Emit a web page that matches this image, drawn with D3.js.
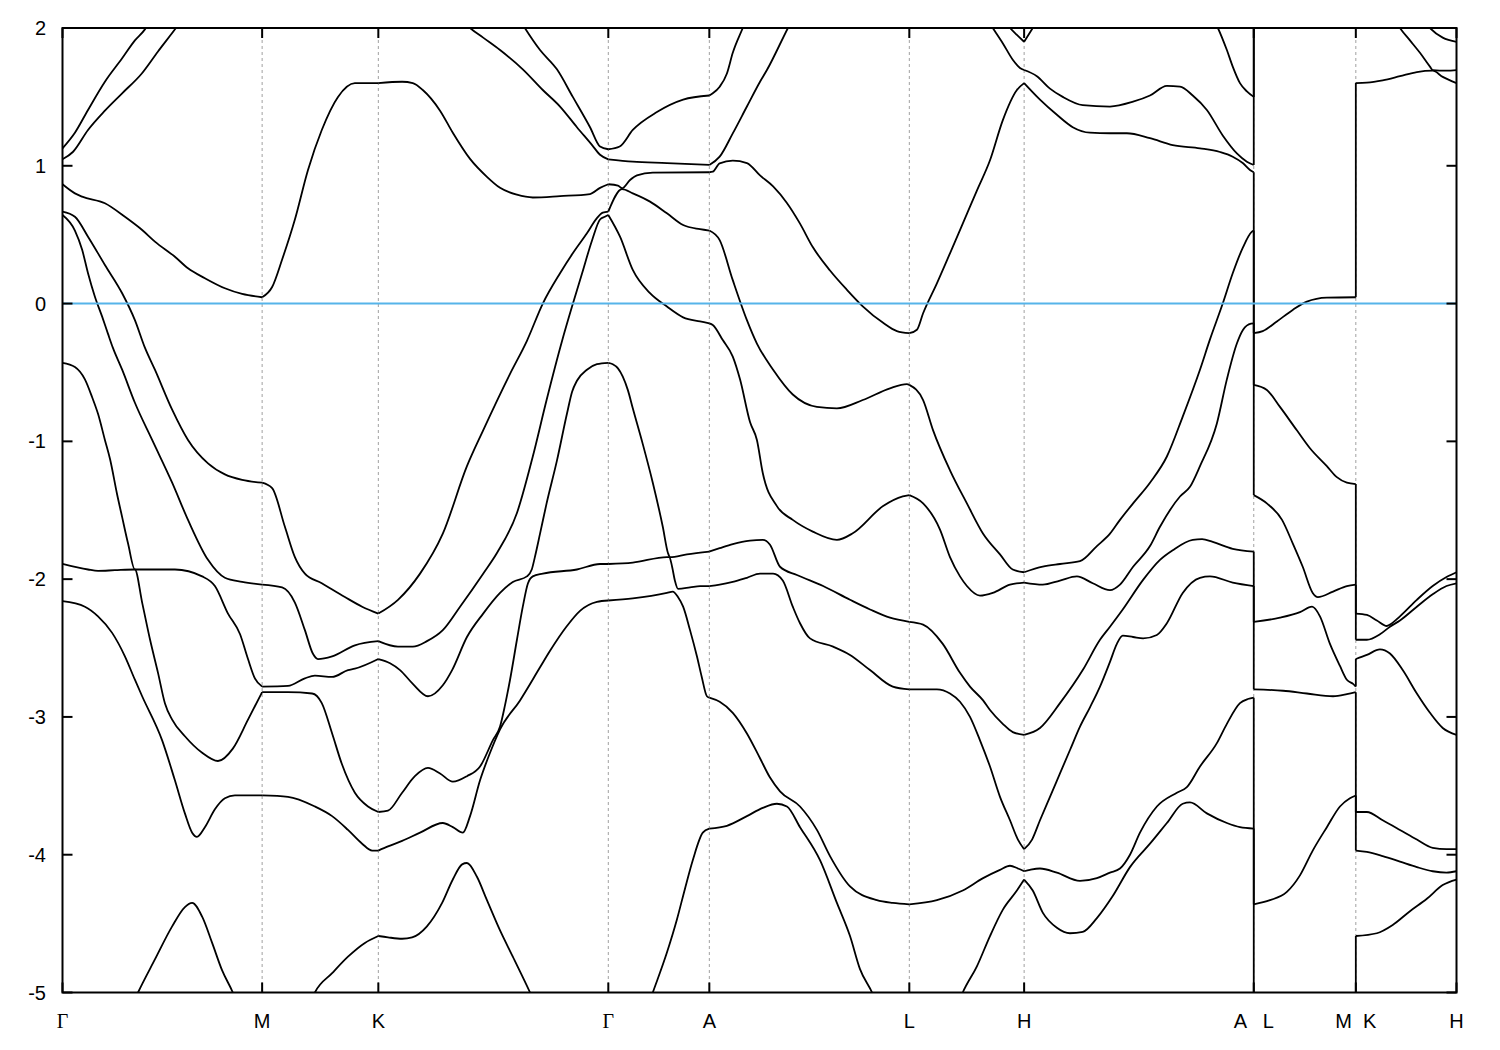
<!DOCTYPE html>
<html><head><meta charset="utf-8">
<script src="https://cdn.jsdelivr.net/npm/d3@7"></script>
<style>
body{margin:0;background:#fff;}
text{font-family:"Liberation Sans",Arial,Helvetica,sans-serif;}
</style>
</head><body>
<svg id="chart" width="1500" height="1050"></svg>
<script>
// High-symmetry k-points (path length, units of 2π/a)
const kTicks  = [0, 0.579, 0.916, 1.583, 1.876, 2.456, 2.789, 3.455, 3.751, 4.043];
const kLabels = ["Γ","M","K","Γ","A","L","H","A   L","M  K","H"];
const energyTicks = [2,1,0,-1,-2,-3,-4,-5];
const energyTickLabels = ["2","1","0","-1","-2","-3","-4","-5"];
const fermiLevel = 0;

// Bands (k, E in eV); duplicated k marks a path discontinuity (A|L, M|K)
const band0 = [
[0,-5.8],[0.167,-5.3],[0.219,-5.0],[0.268,-4.76],[0.318,-4.52],[0.355,-4.38],[0.376,-4.35],[0.405,-4.45],[0.434,-4.64],[0.463,-4.84],[0.494,-5.0],[0.538,-5.3],
[0.579,-5.6],
[0.689,-5.3],[0.732,-5.0],[0.782,-4.86],[0.828,-4.74],[0.877,-4.64],[0.916,-4.59],
[0.944,-4.60],[0.985,-4.61],[1.014,-4.60],[1.057,-4.52],[1.101,-4.35],[1.132,-4.18],[1.159,-4.07],[1.173,-4.06],[1.202,-4.16],[1.231,-4.33],[1.269,-4.55],[1.306,-4.74],[1.356,-5.0],[1.408,-5.3],[1.583,-5.8],
[1.669,-5.3],[1.712,-5.0],[1.753,-4.71],[1.782,-4.47],[1.805,-4.25],[1.828,-4.04],[1.857,-3.84],[1.876,-3.81],
[1.927,-3.79],[1.985,-3.72],[2.031,-3.66],[2.072,-3.63],[2.101,-3.65],[2.139,-3.80],[2.197,-4.04],[2.246,-4.35],[2.284,-4.59],[2.313,-4.83],[2.348,-5.0],[2.394,-5.3],[2.456,-5.6],
[2.568,-5.3],[2.611,-5.0],[2.652,-4.81],[2.690,-4.59],[2.727,-4.40],[2.768,-4.26],[2.789,-4.18],
[2.814,-4.26],[2.843,-4.42],[2.884,-4.53],[2.922,-4.57],[2.959,-4.56],[3.000,-4.46],[3.046,-4.30],[3.096,-4.09],[3.154,-3.92],[3.203,-3.77],[3.249,-3.63],[3.270,-3.62],[3.319,-3.70],[3.377,-3.77],[3.415,-3.80],[3.455,-3.81],
[3.455,-5.6],[3.751,-5.6],
[3.751,-4.59],[3.812,-4.57],[3.858,-4.51],[3.908,-4.41],[3.957,-4.32],[4.003,-4.22],[4.043,-4.18]
];
const band1 = [
[0,-2.16],[0.065,-2.20],[0.103,-2.27],[0.144,-2.39],[0.181,-2.56],[0.210,-2.73],[0.231,-2.85],[0.289,-3.17],[0.326,-3.46],[0.355,-3.70],[0.376,-3.84],[0.390,-3.87],[0.413,-3.80],[0.442,-3.67],[0.471,-3.59],[0.500,-3.57],[0.579,-3.57],
[0.654,-3.58],[0.732,-3.65],[0.782,-3.72],[0.828,-3.82],[0.869,-3.92],[0.898,-3.97],[0.916,-3.97],
[0.944,-3.94],[0.985,-3.90],[1.037,-3.84],[1.103,-3.77],[1.132,-3.80],[1.161,-3.84],[1.182,-3.72],[1.211,-3.46],[1.240,-3.26],[1.269,-3.09],[1.327,-2.88],[1.385,-2.64],[1.414,-2.52],[1.463,-2.34],[1.501,-2.23],[1.550,-2.165],[1.583,-2.155],
[1.654,-2.14],[1.753,-2.10],[1.770,-2.09],[1.785,-2.13],[1.800,-2.20],[1.820,-2.37],[1.840,-2.56],[1.854,-2.71],[1.869,-2.85],[1.876,-2.86],
[1.906,-2.89],[1.944,-2.97],[1.985,-3.12],[2.023,-3.30],[2.052,-3.44],[2.081,-3.54],[2.139,-3.65],[2.188,-3.82],[2.226,-4.01],[2.284,-4.23],[2.362,-4.33],[2.408,-4.35],[2.456,-4.36],
[2.536,-4.33],[2.611,-4.26],[2.670,-4.17],[2.719,-4.11],[2.748,-4.08],[2.771,-4.10],[2.789,-4.12],
[2.806,-4.11],[2.835,-4.10],[2.884,-4.13],[2.951,-4.19],[3.000,-4.17],[3.038,-4.13],[3.067,-4.10],[3.096,-4.00],[3.125,-3.84],[3.174,-3.65],[3.232,-3.55],[3.261,-3.51],[3.299,-3.36],[3.348,-3.19],[3.377,-3.05],[3.415,-2.90],[3.438,-2.87],[3.455,-2.86],
[3.455,-4.36],[3.502,-4.33],[3.551,-4.27],[3.589,-4.15],[3.626,-3.97],[3.667,-3.80],[3.705,-3.65],[3.734,-3.59],[3.751,-3.57],
[3.751,-3.97],[3.783,-3.98],[3.829,-4.01],[3.879,-4.05],[3.928,-4.09],[3.974,-4.12],[4.014,-4.13],[4.043,-4.12]
];
const band2 = [
[0,-1.89],[0.074,-1.93],[0.103,-1.94],[0.152,-1.935],[0.210,-1.93],[0.231,-2.17],[0.254,-2.44],[0.277,-2.68],[0.297,-2.90],[0.318,-3.02],[0.355,-3.14],[0.405,-3.26],[0.451,-3.32],[0.494,-3.23],[0.538,-3.02],[0.579,-2.82],
[0.654,-2.82],[0.724,-2.83],[0.752,-2.90],[0.782,-3.12],[0.810,-3.34],[0.848,-3.55],[0.886,-3.65],[0.916,-3.69],
[0.944,-3.68],[0.985,-3.55],[1.022,-3.43],[1.060,-3.37],[1.095,-3.41],[1.132,-3.47],[1.173,-3.43],[1.211,-3.36],[1.248,-3.17],[1.269,-3.07],[1.283,-2.92],[1.298,-2.73],[1.318,-2.44],[1.335,-2.20],[1.350,-2.03],[1.364,-1.98],[1.393,-1.96],[1.492,-1.93],[1.559,-1.89],[1.583,-1.89],
[1.654,-1.88],[1.753,-1.84],[1.760,-1.84],[1.768,-1.91],[1.776,-2.01],[1.785,-2.07],[1.820,-2.06],[1.849,-2.05],[1.876,-2.05],
[1.906,-2.04],[1.944,-2.02],[1.985,-1.99],[2.023,-1.96],[2.061,-1.96],[2.089,-2.01],[2.118,-2.20],[2.139,-2.32],[2.168,-2.43],[2.235,-2.49],[2.284,-2.55],[2.342,-2.66],[2.408,-2.78],[2.456,-2.80],
[2.496,-2.80],[2.536,-2.80],[2.574,-2.83],[2.603,-2.89],[2.632,-3.00],[2.661,-3.17],[2.690,-3.36],[2.719,-3.58],[2.748,-3.75],[2.771,-3.89],[2.789,-3.96],
[2.812,-3.89],[2.835,-3.75],[2.864,-3.58],[2.893,-3.41],[2.922,-3.24],[2.951,-3.07],[2.980,-2.93],[3.009,-2.78],[3.038,-2.60],[3.058,-2.47],[3.075,-2.41],[3.105,-2.42],[3.134,-2.43],[3.174,-2.405],[3.203,-2.32],[3.249,-2.10],[3.299,-1.99],[3.328,-1.98],[3.394,-2.025],[3.455,-2.05],
[3.455,-2.80],[3.540,-2.81],[3.609,-2.83],[3.685,-2.85],[3.725,-2.835],[3.751,-2.82],
[3.751,-3.69],[3.783,-3.69],[3.829,-3.75],[3.879,-3.82],[3.928,-3.89],[3.974,-3.95],[4.014,-3.96],[4.043,-3.96]
];
const band3 = [
[0,-0.43],[0.036,-0.46],[0.065,-0.55],[0.086,-0.68],[0.103,-0.80],[0.123,-0.99],[0.138,-1.13],[0.158,-1.38],[0.173,-1.55],[0.190,-1.74],[0.210,-1.93],[0.268,-1.93],[0.326,-1.93],[0.405,-1.98],[0.442,-2.05],[0.480,-2.25],[0.515,-2.40],[0.538,-2.58],[0.558,-2.72],[0.579,-2.78],
[0.654,-2.775],[0.703,-2.72],[0.732,-2.70],[0.782,-2.71],[0.828,-2.66],[0.848,-2.65],[0.916,-2.58],
[0.950,-2.61],[0.979,-2.66],[1.016,-2.76],[1.060,-2.85],[1.103,-2.77],[1.130,-2.66],[1.173,-2.42],[1.220,-2.25],[1.269,-2.10],[1.306,-2.02],[1.347,-1.98],[1.361,-1.93],[1.370,-1.84],[1.385,-1.67],[1.404,-1.45],[1.434,-1.14],[1.463,-0.80],[1.478,-0.64],[1.492,-0.56],[1.521,-0.48],[1.550,-0.44],[1.583,-0.43],
[1.596,-0.44],[1.611,-0.47],[1.625,-0.53],[1.640,-0.63],[1.654,-0.76],[1.683,-1.02],[1.712,-1.30],[1.741,-1.62],[1.756,-1.81],[1.762,-1.84],[1.811,-1.82],[1.876,-1.80],
[1.906,-1.775],[1.944,-1.745],[1.994,-1.72],[2.031,-1.715],[2.052,-1.75],[2.081,-1.91],[2.130,-1.97],[2.206,-2.05],[2.284,-2.15],[2.342,-2.22],[2.400,-2.28],[2.456,-2.31],
[2.496,-2.33],[2.553,-2.47],[2.603,-2.68],[2.632,-2.78],[2.670,-2.88],[2.690,-2.95],[2.727,-3.05],[2.756,-3.11],[2.789,-3.13],
[2.835,-3.08],[2.893,-2.90],[2.959,-2.66],[3.009,-2.44],[3.038,-2.345],[3.075,-2.22],[3.134,-2.005],[3.183,-1.86],[3.220,-1.79],[3.278,-1.715],[3.305,-1.71],[3.336,-1.73],[3.394,-1.78],[3.455,-1.80],
[3.455,-2.31],[3.531,-2.28],[3.589,-2.24],[3.624,-2.20],[3.647,-2.27],[3.676,-2.47],[3.705,-2.63],[3.725,-2.73],[3.743,-2.76],[3.751,-2.78],
[3.751,-2.58],[3.783,-2.55],[3.821,-2.51],[3.850,-2.54],[3.887,-2.66],[3.928,-2.83],[3.966,-2.97],[4.003,-3.08],[4.043,-3.13]
];
const band4 = [
[0,0.643],[0.036,0.53],[0.057,0.39],[0.074,0.22],[0.094,0.05],[0.115,-0.095],[0.132,-0.22],[0.146,-0.32],[0.173,-0.48],[0.210,-0.72],[0.260,-0.99],[0.318,-1.30],[0.364,-1.57],[0.422,-1.86],[0.471,-1.99],[0.521,-2.02],[0.579,-2.04],
[0.637,-2.06],[0.674,-2.17],[0.703,-2.37],[0.726,-2.54],[0.741,-2.58],[0.782,-2.56],[0.848,-2.48],[0.916,-2.45],
[0.973,-2.49],[1.016,-2.49],[1.057,-2.45],[1.103,-2.37],[1.153,-2.20],[1.220,-1.96],[1.260,-1.81],[1.318,-1.52],[1.364,-1.11],[1.404,-0.70],[1.449,-0.27],[1.478,-0.02],[1.507,0.22],[1.536,0.46],[1.559,0.61],[1.573,0.63],[1.583,0.643],
[1.617,0.485],[1.654,0.244],[1.704,0.075],[1.753,-0.022],[1.800,-0.10],[1.849,-0.13],[1.876,-0.143],
[1.886,-0.155],[1.915,-0.265],[1.944,-0.385],[1.965,-0.55],[1.994,-0.86],[2.014,-0.99],[2.031,-1.23],[2.072,-1.47],[2.118,-1.57],[2.176,-1.655],[2.246,-1.715],[2.292,-1.667],[2.380,-1.47],[2.437,-1.40],[2.456,-1.39],
[2.496,-1.45],[2.545,-1.64],[2.574,-1.84],[2.603,-1.98],[2.623,-2.05],[2.661,-2.12],[2.698,-2.10],[2.748,-2.04],[2.789,-2.025],
[2.843,-2.04],[2.893,-2.01],[2.942,-1.98],[2.988,-2.03],[3.038,-2.08],[3.067,-2.04],[3.105,-1.91],[3.154,-1.76],[3.183,-1.62],[3.241,-1.40],[3.270,-1.33],[3.299,-1.18],[3.348,-0.87],[3.377,-0.55],[3.406,-0.29],[3.424,-0.19],[3.447,-0.145],[3.455,-0.143],
[3.455,-1.39],[3.493,-1.45],[3.537,-1.57],[3.568,-1.74],[3.597,-1.91],[3.626,-2.10],[3.641,-2.13],[3.685,-2.09],[3.725,-2.05],[3.751,-2.04],
[3.751,-2.44],[3.783,-2.44],[3.821,-2.40],[3.850,-2.345],[3.879,-2.30],[3.928,-2.20],[3.974,-2.11],[4.014,-2.05],[4.043,-2.03]
];
const band5 = [
[0,0.667],[0.036,0.63],[0.074,0.485],[0.123,0.28],[0.173,0.075],[0.210,-0.12],[0.239,-0.32],[0.268,-0.48],[0.318,-0.77],[0.364,-0.99],[0.422,-1.16],[0.471,-1.24],[0.521,-1.28],[0.579,-1.30],
[0.608,-1.34],[0.645,-1.62],[0.674,-1.84],[0.703,-1.96],[0.752,-2.03],[0.819,-2.13],[0.869,-2.20],[0.916,-2.25],
[0.973,-2.15],[1.037,-1.96],[1.103,-1.67],[1.173,-1.18],[1.220,-0.92],[1.298,-0.51],[1.347,-0.27],[1.393,0.0],[1.443,0.22],[1.480,0.365],[1.521,0.51],[1.550,0.62],[1.567,0.66],[1.583,0.667],
[1.623,0.83],[1.654,0.80],[1.704,0.74],[1.753,0.655],[1.800,0.57],[1.849,0.54],[1.876,0.53],
[1.906,0.46],[1.944,0.17],[1.985,-0.12],[2.014,-0.29],[2.061,-0.48],[2.118,-0.66],[2.188,-0.75],[2.246,-0.76],[2.321,-0.70],[2.400,-0.615],[2.449,-0.585],[2.456,-0.59],
[2.496,-0.70],[2.525,-0.92],[2.574,-1.21],[2.623,-1.45],[2.670,-1.67],[2.719,-1.82],[2.756,-1.93],[2.789,-1.95],
[2.843,-1.91],[2.893,-1.89],[2.951,-1.87],[3.000,-1.76],[3.038,-1.67],[3.067,-1.57],[3.105,-1.45],[3.154,-1.30],[3.203,-1.11],[3.249,-0.82],[3.299,-0.48],[3.328,-0.26],[3.365,0.0],[3.394,0.22],[3.424,0.41],[3.449,0.52],[3.455,0.53],
[3.455,-0.59],[3.493,-0.627],[3.531,-0.75],[3.580,-0.92],[3.618,-1.05],[3.667,-1.18],[3.696,-1.26],[3.725,-1.30],[3.751,-1.31],
[3.751,-2.25],[3.783,-2.26],[3.812,-2.30],[3.841,-2.34],[3.850,-2.33],[3.879,-2.27],[3.928,-2.15],[3.974,-2.05],[4.014,-1.985],[4.043,-1.95]
];
const band6 = [
[0,0.866],[0.036,0.80],[0.057,0.776],[0.123,0.728],[0.181,0.63],[0.231,0.534],[0.268,0.45],[0.326,0.34],[0.364,0.256],[0.413,0.184],[0.471,0.111],[0.521,0.07],[0.579,0.046],
[0.608,0.12],[0.637,0.32],[0.674,0.61],[0.712,0.97],[0.752,1.26],[0.799,1.50],[0.848,1.60],[0.916,1.60],
[0.985,1.61],[1.016,1.60],[1.045,1.55],[1.095,1.40],[1.132,1.24],[1.182,1.05],[1.231,0.92],[1.269,0.84],[1.318,0.79],[1.364,0.77],[1.443,0.78],[1.530,0.795],[1.559,0.84],[1.583,0.866],
[1.611,0.856],[1.623,0.837],[1.646,0.897],[1.666,0.93],[1.712,0.95],[1.876,0.953],
[1.886,0.957],[1.906,1.018],[1.944,1.037],[1.985,1.02],[2.023,0.93],[2.061,0.85],[2.101,0.73],[2.139,0.58],[2.176,0.41],[2.226,0.24],[2.275,0.10],[2.321,-0.02],[2.380,-0.14],[2.420,-0.20],[2.456,-0.215],
[2.478,-0.19],[2.496,-0.07],[2.536,0.147],[2.574,0.365],[2.611,0.58],[2.652,0.82],[2.690,1.04],[2.727,1.33],[2.768,1.55],[2.789,1.60],
[2.835,1.48],[2.884,1.37],[2.930,1.28],[2.980,1.24],[3.038,1.236],[3.087,1.236],[3.154,1.20],[3.220,1.15],[3.299,1.127],[3.357,1.10],[3.394,1.066],[3.424,1.018],[3.444,0.97],[3.455,0.953],
[3.455,-0.215],[3.481,-0.20],[3.522,-0.13],[3.568,-0.046],[3.609,0.014],[3.667,0.043],[3.751,0.046],
[3.751,1.60],[3.783,1.603],[3.829,1.62],[3.879,1.65],[3.928,1.68],[3.974,1.69],[4.003,1.645],[4.043,1.60]
];
const band7 = [
[0,1.047],[0.030,1.10],[0.074,1.26],[0.123,1.40],[0.173,1.526],[0.230,1.67],[0.277,1.83],[0.329,2.0],[0.399,2.25],[0.579,2.6],
[0.916,2.5],
[1.095,2.25],[1.182,2.0],[1.220,1.93],[1.269,1.84],[1.335,1.70],[1.393,1.55],[1.443,1.43],[1.492,1.28],[1.536,1.15],[1.559,1.08],[1.583,1.047],
[1.654,1.03],[1.753,1.02],[1.876,1.006],
[1.906,1.066],[1.944,1.235],[1.985,1.43],[2.023,1.61],[2.043,1.695],[2.104,2.0],[2.168,2.3],[2.456,2.6],
[2.617,2.3],[2.698,2.0],[2.727,1.89],[2.756,1.77],[2.777,1.71],[2.789,1.695],
[2.826,1.65],[2.864,1.56],[2.901,1.50],[2.959,1.44],[3.038,1.43],[3.105,1.465],[3.154,1.51],[3.203,1.58],[3.241,1.575],[3.278,1.51],[3.319,1.405],[3.365,1.22],[3.406,1.09],[3.435,1.03],[3.455,1.006],
[3.455,2.5],[3.751,2.5],
[3.751,2.4],[3.835,2.2],[3.879,2.0],[3.908,1.91],[3.937,1.82],[3.966,1.72],[3.974,1.695],[4.014,1.69],[4.043,1.695]
];
const band8 = [
[0,1.127],[0.036,1.24],[0.074,1.405],[0.123,1.61],[0.173,1.78],[0.210,1.91],[0.239,1.99],[0.283,2.2],[0.579,2.9],
[0.916,2.9],
[1.283,2.25],[1.341,2.0],[1.385,1.84],[1.434,1.70],[1.480,1.50],[1.530,1.28],[1.559,1.14],[1.583,1.12],
[1.616,1.14],[1.654,1.26],[1.724,1.39],[1.800,1.48],[1.876,1.51],
[1.886,1.526],[1.906,1.574],[1.927,1.67],[1.944,1.82],[1.973,2.0],[2.023,2.3],[2.456,2.8],
[2.690,2.2],[2.748,2.0],[2.768,1.95],[2.789,1.90],
[2.814,2.0],[2.864,2.2],[3.081,2.5],[3.299,2.2],[3.351,2.0],[3.377,1.84],[3.394,1.72],[3.415,1.60],[3.435,1.54],[3.455,1.50],
[3.455,2.7],[3.751,2.7],
[3.751,2.6],[3.922,2.15],[3.966,2.0],[4.003,1.93],[4.043,1.90]
];
const bands = [band0, band1, band2, band3, band4, band5, band6, band7, band8];

// ---------- drawing ----------
const svg = d3.select("#chart");
const plot = {left: 62.5, right: 1456.5, top: 28, bottom: 992.5};
const x = d3.scaleLinear().domain([kTicks[0], kTicks[kTicks.length-1]]).range([plot.left, plot.right]);
const y = d3.scaleLinear().domain([-5, 2]).range([plot.bottom, plot.top]);

svg.append("rect").attr("width",1500).attr("height",1050).attr("fill","#fff");

svg.append("defs").append("clipPath").attr("id","clip")
  .append("rect").attr("x",plot.left).attr("y",plot.top)
  .attr("width",plot.right-plot.left).attr("height",plot.bottom-plot.top);

// vertical grid at high-symmetry points
svg.append("g").selectAll("line").data(kTicks).join("line")
  .attr("x1",d=>x(d)).attr("x2",d=>x(d))
  .attr("y1",plot.top).attr("y2",plot.bottom)
  .attr("stroke","#a0a0a0").attr("stroke-width",1)
  .attr("stroke-dasharray","3,3");

function isSym(k){ return kTicks.some(t => Math.abs(t-k) < 1e-6); }
function splitBand(pts){
  const pieces=[], jumps=[];
  let cur=[pts[0]];
  for(let i=1;i<pts.length;i++){
    const p=pts[i], prev=pts[i-1];
    if(Math.abs(p[0]-prev[0])<1e-9){ pieces.push(cur); jumps.push([prev,p]); cur=[p]; continue; }
    cur.push(p);
    if(isSym(p[0]) && i<pts.length-1 && Math.abs(pts[i+1][0]-p[0])>1e-9){ pieces.push(cur); cur=[p]; }
  }
  pieces.push(cur);
  return {pieces, jumps};
}

const line = d3.line().x(d=>x(d[0])).y(d=>y(d[1])).curve(d3.curveMonotoneX);
const gb = svg.append("g").attr("clip-path","url(#clip)");
bands.forEach(b=>{
  const {pieces, jumps} = splitBand(b);
  pieces.filter(p=>p.length>1).forEach(p=>{
    gb.append("path").attr("d",line(p)).attr("fill","none")
      .attr("stroke","#000").attr("stroke-width",1.8).attr("stroke-linejoin","round");
  });
  jumps.forEach(([a,c])=>{
    gb.append("line").attr("x1",x(a[0])).attr("x2",x(c[0]))
      .attr("y1",y(a[1])).attr("y2",y(c[1]))
      .attr("stroke","#000").attr("stroke-width",1.8);
  });
});

// Fermi level
gb.append("line").attr("x1",plot.left).attr("x2",plot.right)
  .attr("y1",y(fermiLevel)).attr("y2",y(fermiLevel))
  .attr("stroke","#56b4e9").attr("stroke-width",2);

// border
svg.append("rect").attr("x",plot.left).attr("y",plot.top)
  .attr("width",plot.right-plot.left).attr("height",plot.bottom-plot.top)
  .attr("fill","none").attr("stroke","#000").attr("stroke-width",2);

// ticks
const gt = svg.append("g").attr("stroke","#000").attr("stroke-width",2);
energyTicks.forEach(e=>{
  gt.append("line").attr("x1",plot.left).attr("x2",plot.left+10).attr("y1",y(e)).attr("y2",y(e));
  gt.append("line").attr("x1",plot.right-10).attr("x2",plot.right).attr("y1",y(e)).attr("y2",y(e));
});
kTicks.forEach(k=>{
  gt.append("line").attr("x1",x(k)).attr("x2",x(k)).attr("y1",plot.top).attr("y2",plot.top+10);
  gt.append("line").attr("x1",x(k)).attr("x2",x(k)).attr("y1",plot.bottom-10).attr("y2",plot.bottom);
});

// labels
svg.append("g").selectAll("text").data(energyTicks).join("text")
  .attr("x",46).attr("y",d=>y(d)).attr("dy","0.35em")
  .attr("text-anchor","end").attr("font-size",20).attr("fill","#000")
  .text((d,i)=>energyTickLabels[i]);

svg.append("g").selectAll("text").data(kTicks).join("text")
  .attr("x",d=>x(d)).attr("y",1028)
  .attr("text-anchor","middle").attr("font-size",20).attr("fill","#000")
  .style("white-space","pre")
  .style("font-family",(d,i)=>kLabels[i]==="Γ" ? "'Liberation Serif','DejaVu Serif',serif" : null)
  .text((d,i)=>kLabels[i]);
</script>
</body></html>
